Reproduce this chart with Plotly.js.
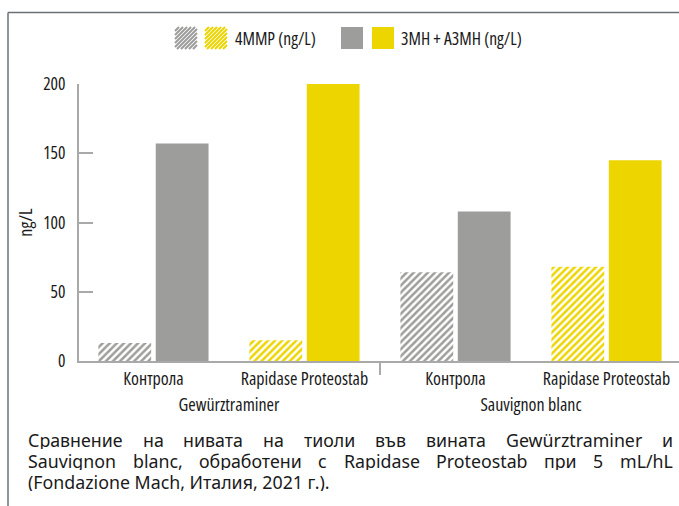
<!DOCTYPE html>
<html>
<head>
<meta charset="utf-8">
<script src="https://cdn.plot.ly/plotly-3.0.1.min.js"></script>
<style>
  html, body { margin: 0; padding: 0; background: #ffffff; }
  #chart { width: 679px; height: 506px; }
  text { font-stretch: condensed; }
</style>
</head>
<body>
<div id="chart"></div>
<script>
// ---- data ----
const groups = ['Gewürztraminer', 'Gewürztraminer', 'Sauvignon blanc', 'Sauvignon blanc'];
const categories = ['Контрола', 'Rapidase Proteostab', 'Контрола', 'Rapidase Proteostab'];
const mmp4 = [13, 15, 64, 68];          // 4MMP (ng/L)
const mh3 = [157, 200, 108, 145];       // 3MH + A3MH (ng/L)
const seriesNames = ['4MMP (ng/L)', '3MH + A3MH (ng/L)'];
const yTicks = [0, 50, 100, 150, 200];
const captionLines = [
  'Сравнение на нивата на тиоли във вината Gewürztraminer и',
  'Sauvignon blanc, обработени с Rapidase Proteostab при 5 mL/hL',
  '(Fondazione Mach, Италия, 2021 г.).'
];

// ---- style ----
const GRAY = '#9d9d9c';
const YELLOW = '#edd500';
const barColors = [GRAY, YELLOW, GRAY, YELLOW];
const AXIS = '#a9a9a9';
const NARROW = "'Open Sans', sans-serif";
const CAPFONT = "'Noto Sans', sans-serif";
const CAPSIZE = 17.8;

const W = 679, H = 506;
const M = {l: 79, r: 0, t: 84, b: 145};
const PW = W - M.l - M.r, PH = H - M.t - M.b;
const px = x => (x - M.l) / PW;
const py = y => (H - M.b - y) / PH;
const XR = [-0.493, 3.48];

const traces = [
  {
    type: 'bar', name: seriesNames[0], showlegend: false,
    x: [groups, categories], y: mmp4,
    marker: {
      color: 'white',
      line: {width: 0},
      pattern: {shape: '/', fgcolor: barColors, bgcolor: 'white', size: 5, solidity: 0.5, fillmode: 'replace'}
    },
    hoverinfo: 'skip'
  },
  {
    type: 'bar', name: seriesNames[1], showlegend: false,
    x: [groups, categories], y: mh3,
    marker: {color: barColors, line: {width: 0}},
    hoverinfo: 'skip'
  }
];

// ---- manual legend (two swatches per entry) ----
const shapes = [];
const annotations = [];
function hatchPath(x0, y0, s, color) {
  let d = '';
  const step = 4;
  for (let c = -s; c <= s; c += step) {
    const vStart = Math.max(0, -c), vEnd = Math.min(s, s - c);
    if (vEnd <= vStart) continue;
    const xa = x0 + vStart + c, ya = y0 + s - vStart;
    const xb = x0 + vEnd + c, yb = y0 + s - vEnd;
    d += `M${px(xa)},${py(ya)}L${px(xb)},${py(yb)}`;
  }
  shapes.push({type: 'path', xref: 'paper', yref: 'paper', path: d, line: {color: color, width: 2}, layer: 'above'});
}
function solidBox(x0, y0, s, color) {
  shapes.push({type: 'rect', xref: 'paper', yref: 'paper', x0: px(x0), x1: px(x0 + s), y0: py(y0 + s), y1: py(y0),
    fillcolor: color, line: {width: 0}, layer: 'above'});
}
const SW = 22, LY = 27;
hatchPath(175, LY, SW, GRAY);
hatchPath(205, LY, SW, YELLOW);
solidBox(341, LY, SW, GRAY);
solidBox(372, LY, SW, YELLOW);
const txtFont = (size) => ({family: NARROW, size: size, color: '#1a1a1a'});
annotations.push({xref: 'paper', yref: 'paper', x: px(233), y: py(LY + SW / 2), xanchor: 'left', yanchor: 'middle',
  text: seriesNames[0], showarrow: false, font: txtFont(17.5)});
annotations.push({xref: 'paper', yref: 'paper', x: px(399), y: py(LY + SW / 2), xanchor: 'left', yanchor: 'middle',
  text: seriesNames[1], showarrow: false, font: txtFont(17.5)});

// ---- frame lines (top and left) ----
shapes.push({type: 'line', xref: 'paper', yref: 'paper', x0: px(8), x1: px(W), y0: py(12.5), y1: py(12.5), line: {color: '#6d7073', width: 1.5}});
shapes.push({type: 'line', xref: 'paper', yref: 'paper', x0: px(8), x1: px(8), y0: py(12.5), y1: py(H), line: {color: '#6d7073', width: 1.5}});

// ---- short divider between the two wine groups ----
const divX = (1.5 - XR[0]) / (XR[1] - XR[0]);
shapes.push({type: 'line', xref: 'paper', yref: 'paper', x0: divX, x1: divX, y0: 0, y1: py(375), line: {color: AXIS, width: 2}});

// ---- caption with justified lines ----
const cvs = document.createElement('canvas').getContext('2d');
cvs.font = `${CAPSIZE}px ${CAPFONT}`;
const capLeft = 27, capRight = 672;
const capY = [439, 460, 481];
const capAnn = (x, y, text) => ({xref: 'paper', yref: 'paper', x: px(x), y: py(y), xanchor: 'left', yanchor: 'middle',
  text: text, showarrow: false, height: 19, borderpad: 0, valign: 'middle',
  font: {family: CAPFONT, size: CAPSIZE, color: '#1a1a1a'}});
captionLines.forEach((line, i) => {
  if (i < 2) {
    const words = line.split(' ');
    const widths = words.map(w => cvs.measureText(w).width);
    const total = widths.reduce((a, b) => a + b, 0);
    const gap = (capRight - capLeft - total) / (words.length - 1);
    let x = capLeft;
    words.forEach((w, j) => {
      annotations.push(capAnn(x, capY[i], w));
      x += widths[j] + gap;
    });
  } else {
    annotations.push(capAnn(capLeft, capY[i], line));
  }
});

const layout = {
  width: W, height: H,
  margin: M,
  paper_bgcolor: 'white', plot_bgcolor: 'white',
  barmode: 'group', bargap: 0.24, bargroupgap: 0.08,
  showlegend: false,
  font: txtFont(17),
  xaxis: {
    type: 'multicategory',
    range: XR,
    showline: true, linecolor: AXIS, linewidth: 2,
    ticks: '', showgrid: false, zeroline: false,
    showdividers: false, tickangle: 0,
    tickfont: txtFont(18)
  },
  yaxis: {
    range: [0, 200], tickvals: yTicks, ticktext: yTicks.map(String),
    showline: true, linecolor: AXIS, linewidth: 2,
    ticks: 'inside', ticklen: 14, tickwidth: 2, tickcolor: AXIS,
    ticklabelstandoff: 8,
    showgrid: false, zeroline: false,
    tickfont: txtFont(17.5),
    title: {text: 'ng/L', font: txtFont(18), standoff: 6}
  },
  shapes: shapes,
  annotations: annotations
};

Plotly.newPlot('chart', traces, layout, {displayModeBar: false, staticPlot: true});
</script>
</body>
</html>
